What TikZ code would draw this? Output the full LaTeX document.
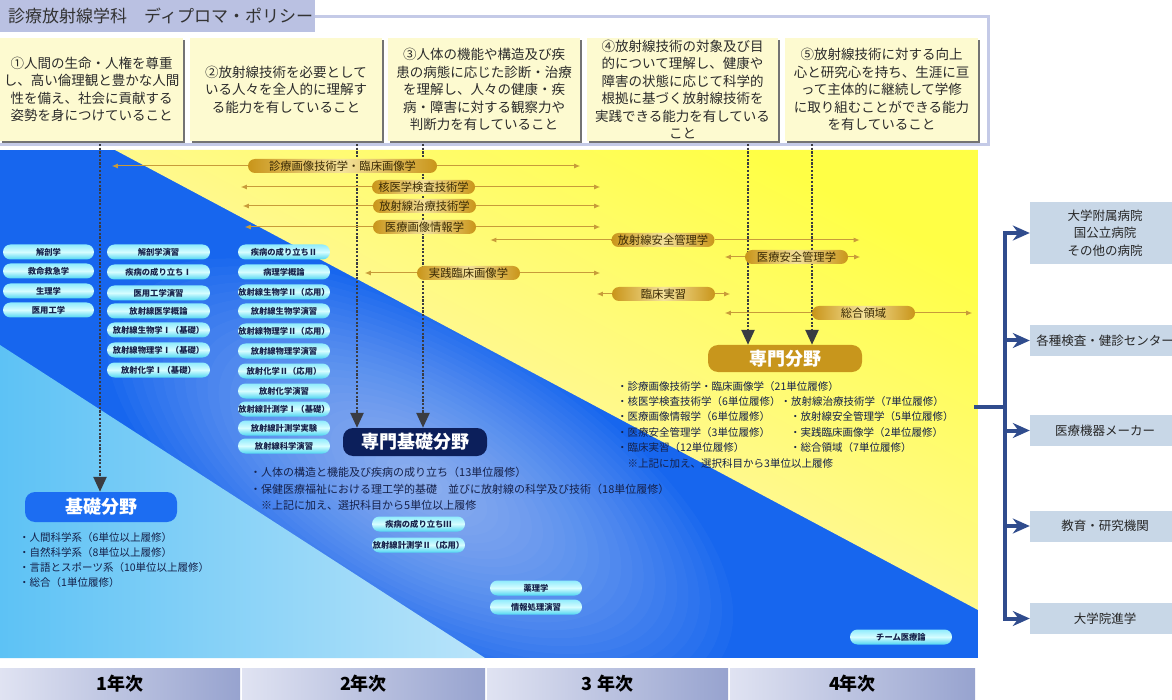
\documentclass[tikz,border=0pt]{standalone}
\usepackage{fontspec}
\setmainfont{Noto Sans CJK JP}
\usetikzlibrary{arrows.meta,positioning,shadows}

\definecolor{frameLav}{HTML}{C4CAE7}
\definecolor{tabLav}{HTML}{BAC1E2}
\definecolor{policyY}{HTML}{FDFAD0}
\definecolor{policyTxt}{HTML}{2B2B2B}
\definecolor{deepBlue}{HTML}{1766EE}
\definecolor{lbLeft}{HTML}{5DC2F5}
\definecolor{lbRight}{HTML}{B9E4FA}
\definecolor{yelBright}{HTML}{FFFF45}
\definecolor{yelMid}{HTML}{FFF98C}
\definecolor{yelPale}{HTML}{FFFDEA}
\definecolor{goldDark}{HTML}{C9951A}
\definecolor{goldLight}{HTML}{F4E29A}
\definecolor{goldLine}{HTML}{C89B3A}
\definecolor{goldTxt}{HTML}{3A2A05}
\definecolor{cyanTop}{HTML}{8FEBFC}
\definecolor{cyanMid}{HTML}{D6FDFF}
\definecolor{cyanBot}{HTML}{4FD6F1}
\definecolor{navyTxt}{HTML}{15214A}
\definecolor{navyBox}{HTML}{0C1F5B}
\definecolor{kisoBlue}{HTML}{1C6DF2}
\definecolor{senmonGold}{HTML}{C8961C}
\definecolor{dotGray}{HTML}{3A3C42}
\definecolor{destFill}{HTML}{C8D7E7}
\definecolor{destLine}{HTML}{304C8D}
\definecolor{yearLight}{HTML}{E0E3F2}
\definecolor{yearDark}{HTML}{97A3CF}

\tikzset{
  policy/.style={fill=policyY, minimum height=103, inner sep=0, align=center,
    text=policyTxt, font=\fontsize{13.5}{17.5}\selectfont,
    drop shadow={shadow xshift=2pt, shadow yshift=-2pt, fill=black!55, opacity=1}},
  gpill/.style={rounded corners=7, minimum width=103, minimum height=14, inner sep=0,
    left color=goldDark, right color=goldDark, middle color=goldLight,
    text=goldTxt, font=\fontsize{11.3}{12}\selectfont},
  cpill/.style={rounded corners=7.5, minimum width=92, minimum height=15, inner sep=0,
    top color=cyanTop, bottom color=cyanBot, middle color=cyanMid,
    text=navyTxt, font=\fontsize{8.3}{9}\selectfont\bfseries},
  area/.style={rounded corners=10, inner sep=0, text=white,
    font=\fontsize{18}{20}\selectfont\bfseries},
  cred/.style={anchor=north west, inner sep=0, align=left, text=navyTxt},
  garrow/.style={goldLine, line width=1, -{Latex[length=6pt,width=5pt]}},
  dotarrow/.style={dotGray, line width=2.5, dash pattern=on 2.2pt off 1.5pt,
    -{Triangle[length=15pt,width=13pt]}},
  dest/.style={fill=destFill, minimum width=150, minimum height=31, inner sep=0,
    align=center, text=black!85, font=\fontsize{12.5}{17.5}\selectfont},
  destarrow/.style={destLine, line width=4, -{Stealth[length=17pt,width=15pt]}},
  year/.style={left color=yearLight, right color=yearDark, minimum height=32,
    inner sep=0, text=black, font=\fontsize{18}{20}\selectfont\bfseries}
}

\begin{document}
\begin{tikzpicture}[x=1pt,y=-1pt]
\useasboundingbox (0,0) rectangle (1172,700);

% diploma policy
\draw[frameLav, line width=3] (0,145) -- (988,145) -- (988,17) -- (315,17);
\node[fill=tabLav, anchor=north west, minimum height=32, inner xsep=8, inner ysep=0,
  text width=299, align=left, text=black!80, font=\fontsize{17}{19}\selectfont]
  (title) at (0,0) {診療放射線学科　ディプロマ・ポリシー};

\node[policy, minimum width=183] (pol1) at (91.5,89.5) {①人間の生命・人権を尊重\\し、高い倫理観と豊かな人間\\性を備え、社会に貢献する\\姿勢を身につけていること};
\node[policy, minimum width=192] (pol2) at (286,89.5) {②放射線技術を必要として\\いる人々を全人的に理解す\\る能力を有していること};
\node[policy, minimum width=192] (pol3) at (484,89.5) {③人体の機能や構造及び疾\\患の病態に応じた診断・治療\\を理解し、人々の健康・疾\\病・障害に対する観察力や\\判断力を有していること};
\node[policy, minimum width=191] (pol4) at (682.5,89.5) {④放射線技術の対象及び目\\的について理解し、健康や\\障害の状態に応じて科学的\\根拠に基づく放射線技術を\\実践できる能力を有している\\こと};
\node[policy, minimum width=193] (pol5) at (881.5,89.5) {⑤放射線技術に対する向上\\心と研究心を持ち、生涯に亘\\って主体的に継続して学修\\に取り組むことができる能力\\を有していること};

% background bands
\begin{scope}
\clip (0,150) rectangle (978,658);
\fill[deepBlue] (0,150) rectangle (978,658);
\foreach \k in {1,...,28}
  \fill[white, opacity=0.026, rotate around={-30:(420,480)}] (420,480) ellipse ({12.5*\k} and {5.6*\k});
\shade[left color=lbLeft, right color=lbRight] (0,345) -- (485,658) -- (0,658) -- cycle;
\shade[top color=yelBright, bottom color=yelPale, middle color=yelMid, shading angle=-28]
  (115,150) -- (978,150) -- (978,610) -- cycle;
\end{scope}

% fields
\node[area, fill=kisoBlue, minimum width=152, minimum height=30] (kiso) at (101,507) {基礎分野};
\node[area, fill=navyBox, minimum width=144, minimum height=28] (kb) at (415,442) {専門基礎分野};
\node[area, fill=senmonGold, minimum width=154, minimum height=27] (sm) at (785,358.5) {専門分野};

\coordinate (dp1) at (100,144);
\coordinate (dp2) at (357,144);
\coordinate (dp3) at (423,144);
\coordinate (dp4) at (748,144);
\coordinate (dp5) at (812,144);
\draw[dotarrow] (dp1) -- (dp1 |- kiso.north);
\draw[dotarrow] (dp2) -- (dp2 |- kb.north);
\draw[dotarrow] (dp3) -- (dp3 |- kb.north);
\draw[dotarrow] (dp4) -- (dp4 |- sm.north);
\draw[dotarrow] (dp5) -- (dp5 |- sm.north);

% specialised subjects
\node[gpill, minimum width=189] (G1) at (342.5,166) {診療画像技術学・臨床画像学};
\node[gpill] (G2) at (423.5,187) {核医学検査技術学};
\node[gpill] (G3) at (424.5,206) {放射線治療技術学};
\node[gpill] (G4) at (424.5,227) {医療画像情報学};
\node[gpill] (G5) at (663,240) {放射線安全管理学};
\node[gpill] (G6) at (796.5,257) {医療安全管理学};
\node[gpill] (G7) at (468.5,273) {実践臨床画像学};
\node[gpill] (G8) at (663.5,294) {臨床実習};
\node[gpill] (G9) at (863.5,313) {総合領域};

\draw (G1.west) edge[garrow] ++(-136,0);
\draw (G1.east) edge[garrow] ++(143,0);
\draw (G2.west) edge[garrow] ++(-131,0);
\draw (G2.east) edge[garrow] ++(125,0);
\draw (G3.west) edge[garrow] ++(-130,0);
\draw (G3.east) edge[garrow] ++(124,0);
\draw (G4.west) edge[garrow] ++(-128,0);
\draw (G4.east) edge[garrow] ++(124,0);
\draw (G5.west) edge[garrow] ++(-121,0);
\draw (G5.east) edge[garrow] ++(145,0);
\draw (G6.west) edge[garrow] ++(-20,0);
\draw (G6.east) edge[garrow] ++(12,0);
\draw (G7.west) edge[garrow] ++(-52,0);
\draw (G7.east) edge[garrow] ++(80,0);
\draw (G8.west) edge[garrow] ++(-15,0);
\draw (G8.east) edge[garrow] ++(15,0);
\draw (G9.west) edge[garrow] ++(-87,0);
\draw (G9.east) edge[garrow] ++(57,0);

% basic subjects
\node[cpill, minimum width=91] (A1) at (48.5,252) {解剖学};
\node[cpill, minimum width=91] (A2) at (48.5,271) {救命救急学};
\node[cpill, minimum width=91] (A3) at (48.5,291) {生理学};
\node[cpill, minimum width=91] (A4) at (48.5,310) {医用工学};

\node[cpill, minimum width=103] (B1) at (158.5,252) {解剖学演習};
\node[cpill, minimum width=103] (B2) at (158.5,272) {疾病の成り立ちⅠ};
\node[cpill, minimum width=103] (B3) at (158.5,293) {医用工学演習};
\node[cpill, minimum width=103] (B4) at (158.5,311) {放射線医学概論};
\node[cpill, minimum width=103] (B5) at (158.5,330) {放射線生物学Ⅰ（基礎）};
\node[cpill, minimum width=103] (B6) at (158.5,350) {放射線物理学Ⅰ（基礎）};
\node[cpill, minimum width=103] (B7) at (158.5,370) {放射化学Ⅰ（基礎）};

\node[cpill] (C1) at (284,252) {疾病の成り立ちⅡ};
\node[cpill] (C2) at (284,272) {病理学概論};
\node[cpill] (C3) at (284,292) {放射線生物学Ⅱ（応用）};
\node[cpill] (C4) at (284,311) {放射線生物学演習};
\node[cpill] (C5) at (284,331) {放射線物理学Ⅱ（応用）};
\node[cpill] (C6) at (284,351) {放射線物理学演習};
\node[cpill] (C7) at (284,371) {放射化学Ⅱ（応用）};
\node[cpill] (C8) at (284,391) {放射化学演習};
\node[cpill] (C9) at (284,409) {放射線計測学Ⅰ（基礎）};
\node[cpill] (C10) at (284,428) {放射線計測学実験};
\node[cpill] (C11) at (284,446) {放射線科学演習};

\node[cpill, minimum width=93] (D1) at (418.5,524) {疾病の成り立ちⅢ};
\node[cpill, minimum width=93] (D2) at (418.5,545) {放射線計測学Ⅱ（応用）};
\node[cpill] (E1) at (536,588) {薬理学};
\node[cpill] (E2) at (536,607) {情報処理演習};
\node[cpill, minimum width=102] (F1) at (901,637) {チーム医療論};

% credits
\node[cred, font=\fontsize{10.5}{15}\selectfont] (kisoTxt) at (19,532)
  {・人間科学系（6単位以上履修）\\・自然科学系（8単位以上履修）\\・言語とスポーツ系（10単位以上履修）\\・総合（1単位履修）};
\node[cred, font=\fontsize{11}{16.5}\selectfont] (kbTxt) at (250,467)
  {・人体の構造と機能及び疾病の成り立ち（13単位履修）\\・保健医療福祉における理工学的基礎　並びに放射線の科学及び技術（18単位履修）\\　※上記に加え、選択科目から5単位以上履修};
\node[cred, font=\fontsize{10.5}{15.4}\selectfont] (smTxt) at (617,381)
  {・診療画像技術学・臨床画像学（21単位履修）\\
   ・核医学検査技術学（6単位履修）・放射線治療技術学（7単位履修）\\
   \makebox[173pt][l]{・医療画像情報学（6単位履修）}・放射線安全管理学（5単位履修）\\
   \makebox[173pt][l]{・医療安全管理学（3単位履修）}・実践臨床画像学（2単位履修）\\
   \makebox[173pt][l]{・臨床実習（12単位履修）}・総合領域（7単位履修）\\
   　※上記に加え、選択科目から3単位以上履修};

% careers
\node[dest, minimum height=62] (dest1) at (1105,233) {大学附属病院\\国公立病院\\その他の病院};
\node[dest] (dest2) at (1105,340.5) {各種検査・健診センター};
\node[dest] (dest3) at (1105,430.5) {医療機器メーカー};
\node[dest] (dest4) at (1105,526) {教育・研究機関};
\node[dest] (dest5) at (1105,618.5) {大学院進学};

\coordinate (src) at (974,407);
\coordinate (hub) at (1005,407);
\draw[destLine, line width=4] (src) -- (hub);
\foreach \dn in {dest1,dest2,dest3,dest4,dest5}
  \draw[destarrow] (hub) |- (\dn.west);

% years
\node[year, minimum width=240] (Y1) at (120,684) {1年次};
\node[year, minimum width=243] (Y2) at (363.5,684) {2年次};
\node[year, minimum width=241] (Y3) at (607.5,684) {3 年次};
\node[year, minimum width=245] (Y4) at (852.5,684) {4年次};
\end{tikzpicture}
\end{document}
